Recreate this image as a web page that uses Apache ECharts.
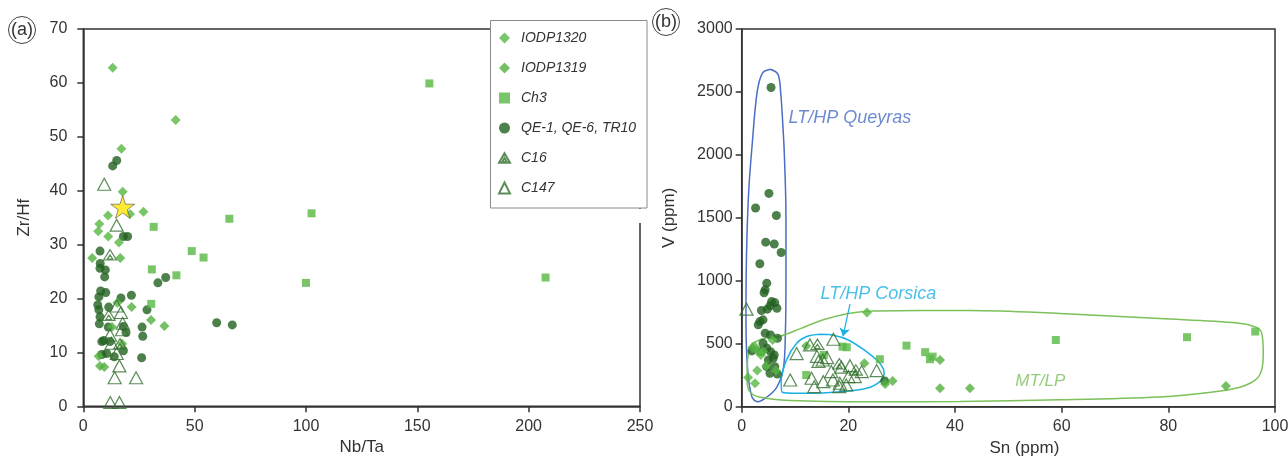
<!DOCTYPE html>
<html>
<head>
<meta charset="utf-8">
<script src="https://cdn.jsdelivr.net/npm/echarts@6/dist/echarts.min.js"></script>
<style>
html, body { margin: 0; padding: 0; background: #fff; overflow: hidden; }
#chart_ctn { width: 1288px; height: 456px; }
</style>
</head>
<body>
<div id="chart_ctn"></div>
<script>
// ---- panel (a): Nb/Ta vs Zr/Hf ----
var a_iodp1320 = [[13.2,62.8],[41.5,53.1],[17.1,47.8],[17.7,39.8],[21,35.7],[27,36.1],[11.1,35.4],[7.2,33.8],[6.7,32.5],[11.2,31.5],[16,30.4]];
var a_iodp1319 = [[4,27.5],[16.6,27.5],[15.3,19.2],[21.7,18.4],[30.4,16.0],[36.4,14.9],[12.9,14.7],[17.4,11.6],[6.9,9.3],[7.5,7.5],[9.4,7.3]];
var a_ch3 = [[155.4,59.9],[65.6,34.8],[102.5,35.8],[31.6,33.3],[48.7,28.8],[54,27.6],[30.8,25.4],[41.8,24.3],[100,22.9],[30.5,19.0],[207.6,23.9]];
var a_qe = [[15,45.6],[13.2,44.6],[18,31.5],[19.9,31.5],[7.5,28.8],[7.6,26.5],[7.5,25.6],[9.9,25.3],[9.6,24.0],[7.8,21.4],[10.1,21.1],[7.0,20.3],[16.9,20.1],[21.6,20.6],[6.5,18.8],[7,17.9],[11.4,18.4],[7.5,16.6],[7.2,15.3],[28.6,17.9],[33.5,22.9],[37,23.9],[26.4,14.7],[26.7,13.0],[26.2,9.0],[59.9,15.5],[66.9,15.1],[11.2,14.7],[18,14.8],[9.2,12.2],[8.3,12.0],[12,12],[18,10.3],[10.5,9.8],[8.3,9.6],[13.9,9.2],[19.2,13.7]];
var a_c16 = [[12,28.1],[16.5,11.6],[11.4,16.9]];
var a_c147 = [[9.4,41.2],[15,33.6],[15,18.6],[16.9,17.4],[17.7,15.4],[17.4,14.2],[12,13.2],[12.7,11.7],[15,9.8],[16.2,7.5],[14.1,5.3],[23.7,5.3],[12.1,0.7],[16.2,0.7]];
var a_star = [[17.7,37.0]];

// ---- panel (b): Sn vs V ----
var b_iodp1320 = [[23.5,748],[5.8,530],[2.5,477],[2.9,445],[3.6,411],[4.6,324],[2.9,287],[1.2,231],[2.5,186],[6.4,287],[4.0,438]];
var b_iodp1319 = [[12.1,483],[23.0,345],[26.9,181],[28.3,204],[37.2,371],[37.2,146],[42.8,146],[90.8,165],[2.0,470]];
var b_ch3 = [[18.9,477],[19.7,472],[25.9,377],[30.9,485],[34.4,433],[35.3,377],[35.8,398],[12.1,252],[15.4,411],[58.9,530],[83.5,552],[96.3,597]];
var b_qe = [[5.5,2535],[5.1,1694],[2.6,1578],[6.5,1519],[4.5,1307],[6.1,1292],[7.4,1225],[3.4,1135],[4.7,981],[4.4,928],[4.2,905],[5.6,835],[6.2,827],[5.3,801],[6.6,782],[3.7,764],[4.8,775],[3.4,676],[4.0,690],[3.1,650],[4.4,584],[5.4,570],[6.7,544],[4.0,504],[4.7,464],[3.6,438],[5.4,437],[6.1,411],[5.0,371],[5.9,385],[4.7,318],[6.2,318],[5.3,266],[6.7,260],[1.9,443],[26.8,205]];
var b_c16 = [[14.2,495],[18.3,340],[21.4,292]];
var b_c147 = [[0.9,775],[17.2,536],[12.8,491],[10.3,422],[14.1,400],[15.2,371],[16.0,390],[20.3,326],[18.7,314],[22.5,279],[25.3,287],[16.8,279],[20.0,239],[21.2,239],[13.1,226],[15.3,199],[17.1,212],[18.4,186],[19.6,173],[13.6,159],[18.3,159],[9.1,212],[14.4,360]];

// field outlines (Sn, V)
var queyrasField = [[5.4,2680],[6.8,2640],[7.3,2500],[7.7,2250],[8.0,2000],[8.3,1500],[8.3,1000],[8.2,600],[7.8,300],[6.5,150],[4.5,70],[3.0,40],[1.9,80],[1.1,300],[0.8,700],[0.9,1200],[1.3,1700],[2.0,2100],[2.9,2500],[3.9,2650],[5.4,2680]];
var corsicaField = [[14.7,575],[17.2,568],[20.0,530],[23.4,437],[25.9,345],[26.7,266],[25.9,199],[23.4,146],[18.4,119],[12.2,106],[7.6,115],[7.4,200],[8.4,371],[10.3,504],[12.2,557],[14.7,575]];
var mtlpField = [[1.9,500],[4.0,540],[7.2,560],[11,620],[15.3,690],[20,740],[24.7,761],[42.8,764],[59.7,740],[78.4,700],[93,665],[96.5,630],[97.5,584],[97.8,425],[97.3,266],[95.5,190],[92,140],[86,105],[78.4,78],[59.7,55],[40.9,42],[24.7,40],[9.1,50],[3.5,75],[1.5,120],[1.0,212],[1.1,371],[1.9,500]];
var corsicaArrow = [[20.3,815],[19.0,560]];
var fieldNames = ['LT/HP Queyras', 'LT/HP Corsica', 'MT/LP'];
var fieldLabelPos = [[8.7,2296],[14.7,896],[51.2,204]];

var legendNames = ['IODP1320', 'IODP1319', 'Ch3', 'QE-1, QE-6, TR10', 'C16', 'C147'];

var lightGreen = '#58b844';
var darkGreen = '#22601f';
var triColor = '#33702f';
var blueField = '#4a6ec6';
var cyanField = '#1cb0e4';
var greenField = '#7cc15a';
var axisColor = '#333333';
var labelColor = '#333333';
var fontFam = '"Liberation Sans", Arial, sans-serif';
var c16Path = 'path://M0,12L7,0L14,12Z M4,11L7,6L10,11Z';
var starPath = 'path://M50,0L61,35L98,35L68,57L79,91L50,70L21,91L32,57L2,35L39,35Z';

function scatter(name, idx, data, symbol, size, style, z) {
    return {
        name: name,
        type: 'scatter',
        xAxisIndex: idx,
        yAxisIndex: idx,
        data: data,
        symbol: symbol,
        symbolSize: size,
        symbolKeepAspect: true,
        itemStyle: style,
        z: z || 2,
        animation: false
    };
}

function axisCommon(min, max, interval, name, gap, margin) {
    return {
        type: 'value',
        min: min,
        max: max,
        interval: interval,
        name: name,
        nameLocation: 'middle',
        nameGap: gap,
        nameTextStyle: { color: labelColor, fontSize: 17, fontFamily: fontFam },
        splitLine: { show: false },
        axisLine: { show: true, onZero: false, lineStyle: { color: axisColor, width: 1.5 } },
        axisTick: { show: true, length: 6, lineStyle: { color: axisColor, width: 1.5 } },
        axisLabel: {
            color: labelColor, fontSize: 16, fontFamily: fontFam, margin: margin,
            formatter: function (v) { return String(v); }
        }
    };
}

var diamondA = { color: lightGreen };
var diamondB = { color: '#52b03e' };
var squareSt = { color: lightGreen };
var circleSt = { color: darkGreen };
var triSt = { color: 'rgba(255,255,255,0)', borderColor: triColor, borderWidth: 1.2 };

var series = [];
[[0, a_qe, a_iodp1320, a_iodp1319, a_ch3, a_c16, a_c147], [1, b_qe, b_iodp1320, b_iodp1319, b_ch3, b_c16, b_c147]].forEach(function (p) {
    var i = p[0];
    series.push(scatter(legendNames[3], i, p[1], 'circle', 9, circleSt));
    series.push(scatter(legendNames[0], i, p[2], 'diamond', 10, diamondA));
    series.push(scatter(legendNames[1], i, p[3], 'diamond', 10, diamondB));
    series.push(scatter(legendNames[2], i, p[4], 'rect', 8, squareSt));
    series.push(scatter(legendNames[4], i, p[5], c16Path, [13, 12], triSt, 3));
    series.push(scatter(legendNames[5], i, p[6], 'triangle', [13, 12], triSt, 3));
});
series.push(scatter('star', 0, a_star, starPath, 24, { color: '#ffe600', borderColor: '#555', borderWidth: 0.8 }, 5));

// field outlines
[[queyrasField, blueField], [corsicaField, cyanField], [mtlpField, greenField]].forEach(function (f, k) {
    var s = {
        name: fieldNames[k],
        type: 'line',
        xAxisIndex: 1,
        yAxisIndex: 1,
        data: f[0],
        smooth: 0.35,
        symbol: 'none',
        lineStyle: { color: f[1], width: 1.5 },
        silent: true,
        z: 1,
        animation: false
    };
    if (k == 1) {
        s.markLine = {
            silent: true,
            symbol: ['none', 'arrow'],
            symbolSize: 8,
            label: { show: false },
            lineStyle: { color: cyanField, width: 1.2, type: 'solid' },
            data: [[{ coord: corsicaArrow[0] }, { coord: corsicaArrow[1] }]]
        };
    }
    series.push(s);
});

// field labels
series.push({
    name: 'fieldLabels',
    type: 'scatter',
    xAxisIndex: 1,
    yAxisIndex: 1,
    symbolSize: 1,
    itemStyle: { color: 'rgba(0,0,0,0)' },
    silent: true,
    animation: false,
    data: fieldNames.map(function (n, k) {
        return {
            name: n,
            value: fieldLabelPos[k],
            label: { color: [blueField, cyanField, greenField][k], fontSize: k == 2 ? 17 : 18 }
        };
    }),
    label: {
        show: true,
        position: 'right',
        distance: 0,
        formatter: '{b}',
        fontStyle: 'italic',
        fontFamily: fontFam,
        verticalAlign: 'middle'
    }
});

var xa = axisCommon(0, 250, 50, 'Nb/Ta', 23, 12);
var xb = axisCommon(0, 100, 20, 'Sn (ppm)', 23, 12);
xb.nameTextStyle.padding = [0, 0, 0, 32];
var ya = axisCommon(0, 70, 10, 'Zr/Hf', 50, 16);
var yb = axisCommon(0, 3000, 500, 'V (ppm)', 64, 9);
xa.gridIndex = 0; ya.gridIndex = 0;
xb.gridIndex = 1; yb.gridIndex = 1;

option = {
    backgroundColor: '#fff',
    animation: false,
    grid: [
        { left: 83.3, right: 648, top: 29, bottom: 49.7, outerBoundsMode: 'none', containLabel: false, show: true, borderColor: axisColor, borderWidth: 1.5, backgroundColor: 'rgba(0,0,0,0)' },
        { left: 741.7, right: 13, top: 29, bottom: 49.3, outerBoundsMode: 'none', containLabel: false, show: true, borderColor: axisColor, borderWidth: 1.5, backgroundColor: 'rgba(0,0,0,0)' }
    ],
    xAxis: [xa, xb],
    yAxis: [ya, yb],
    legend: {
        data: legendNames,
        orient: 'vertical',
        left: 498,
        top: 30,
        padding: 0,
        itemWidth: 11,
        itemHeight: 11,
        itemGap: 14,
        z: 20,
        selectedMode: false,
        textStyle: { fontStyle: 'italic', fontSize: 14, color: labelColor, fontFamily: fontFam, lineHeight: 16, padding: [0, 0, 0, 6] }
    },
    graphic: [
        { type: 'rect', z: 10, shape: { x: 490.5, y: 20.5, width: 156.5, height: 187.5 }, style: { fill: '#fff', stroke: '#8a8a8a', lineWidth: 1 } },
        { type: 'rect', z: 10, shape: { x: 634, y: 209, width: 12, height: 14 }, style: { fill: '#fff' } },
        { type: 'circle', z: 10, shape: { cx: 22, cy: 30, r: 13.5 }, style: { fill: 'none', stroke: '#444', lineWidth: 1 } },
        { type: 'text', z: 10, x: 22, y: 30, style: { text: '(a)', fill: '#333', font: '18px ' + fontFam, align: 'center', verticalAlign: 'middle' } },
        { type: 'circle', z: 10, shape: { cx: 666, cy: 22, r: 13.5 }, style: { fill: 'none', stroke: '#444', lineWidth: 1 } },
        { type: 'text', z: 10, x: 666, y: 22, style: { text: '(b)', fill: '#333', font: '18px ' + fontFam, align: 'center', verticalAlign: 'middle' } }
    ],
    series: series
};

var myChart = echarts.init(document.getElementById('chart_ctn'));
myChart.setOption(option);
</script>
</body>
</html>
